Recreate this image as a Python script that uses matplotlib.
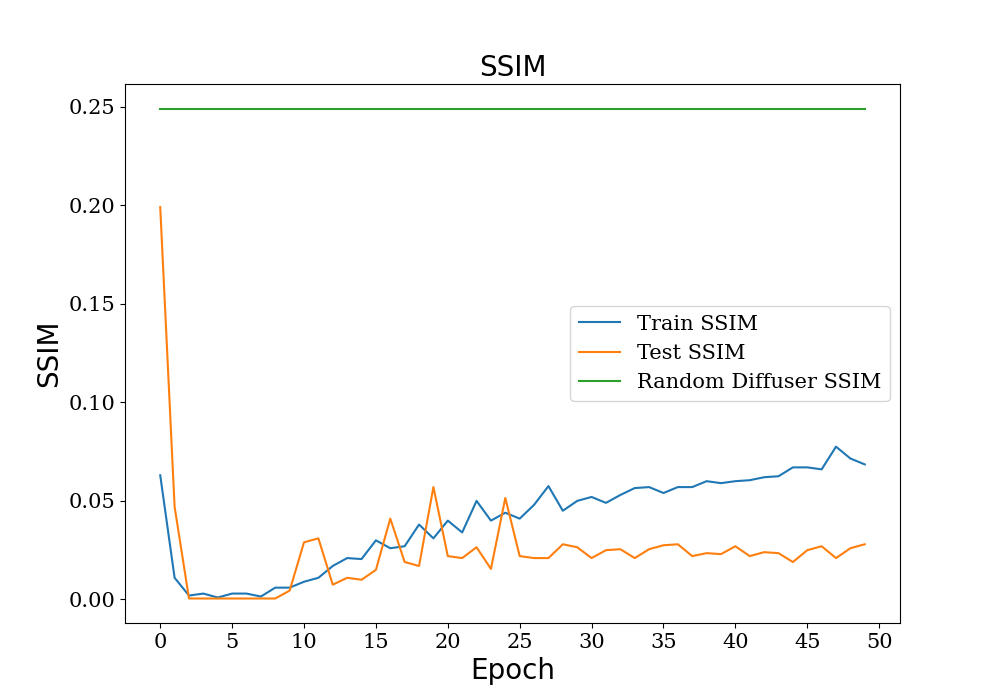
import matplotlib
matplotlib.use("Agg")
import matplotlib.pyplot as plt

epochs = list(range(50))
train_ssim = [0.063, 0.011, 0.002, 0.003, 0.001, 0.003, 0.003, 0.0015, 0.006, 0.006,
              0.009, 0.011, 0.017, 0.021, 0.0205, 0.030, 0.026, 0.027, 0.038, 0.031,
              0.040, 0.034, 0.050, 0.040, 0.044, 0.041, 0.048, 0.0575, 0.045, 0.050,
              0.052, 0.049, 0.053, 0.0565, 0.057, 0.054, 0.057, 0.057, 0.060, 0.059,
              0.060, 0.0605, 0.062, 0.0625, 0.067, 0.067, 0.066, 0.0775, 0.0715, 0.0685]
test_ssim = [0.199, 0.047, 0.0005, 0.0005, 0.0005, 0.0005, 0.0005, 0.0005, 0.0005, 0.0045,
             0.029, 0.031, 0.0075, 0.011, 0.010, 0.015, 0.041, 0.019, 0.017, 0.057,
             0.022, 0.021, 0.0265, 0.0155, 0.0515, 0.022, 0.021, 0.021, 0.028, 0.0265,
             0.021, 0.025, 0.0255, 0.021, 0.0255, 0.0275, 0.028, 0.022, 0.0235, 0.023,
             0.027, 0.022, 0.024, 0.0235, 0.019, 0.025, 0.027, 0.021, 0.026, 0.028]
random_ssim = [0.249] * 50

fig, ax = plt.subplots(figsize=(10, 7), dpi=100)
ax.plot(epochs, train_ssim, label="Train SSIM")
ax.plot(epochs, test_ssim, label="Test SSIM")
ax.plot(epochs, random_ssim, label="Random Diffuser SSIM")

ax.set_title("SSIM", fontsize=20)
ax.set_xlabel("Epoch", fontsize=20)
ax.set_ylabel("SSIM", fontsize=20)
ax.set_xticks(range(0, 51, 5))
for lab in ax.get_xticklabels() + ax.get_yticklabels():
    lab.set_family("DejaVu Serif")
    lab.set_fontsize(15)
ax.legend(prop={"family": "DejaVu Serif", "size": 15}, loc="center right")

plt.savefig("out.png")
